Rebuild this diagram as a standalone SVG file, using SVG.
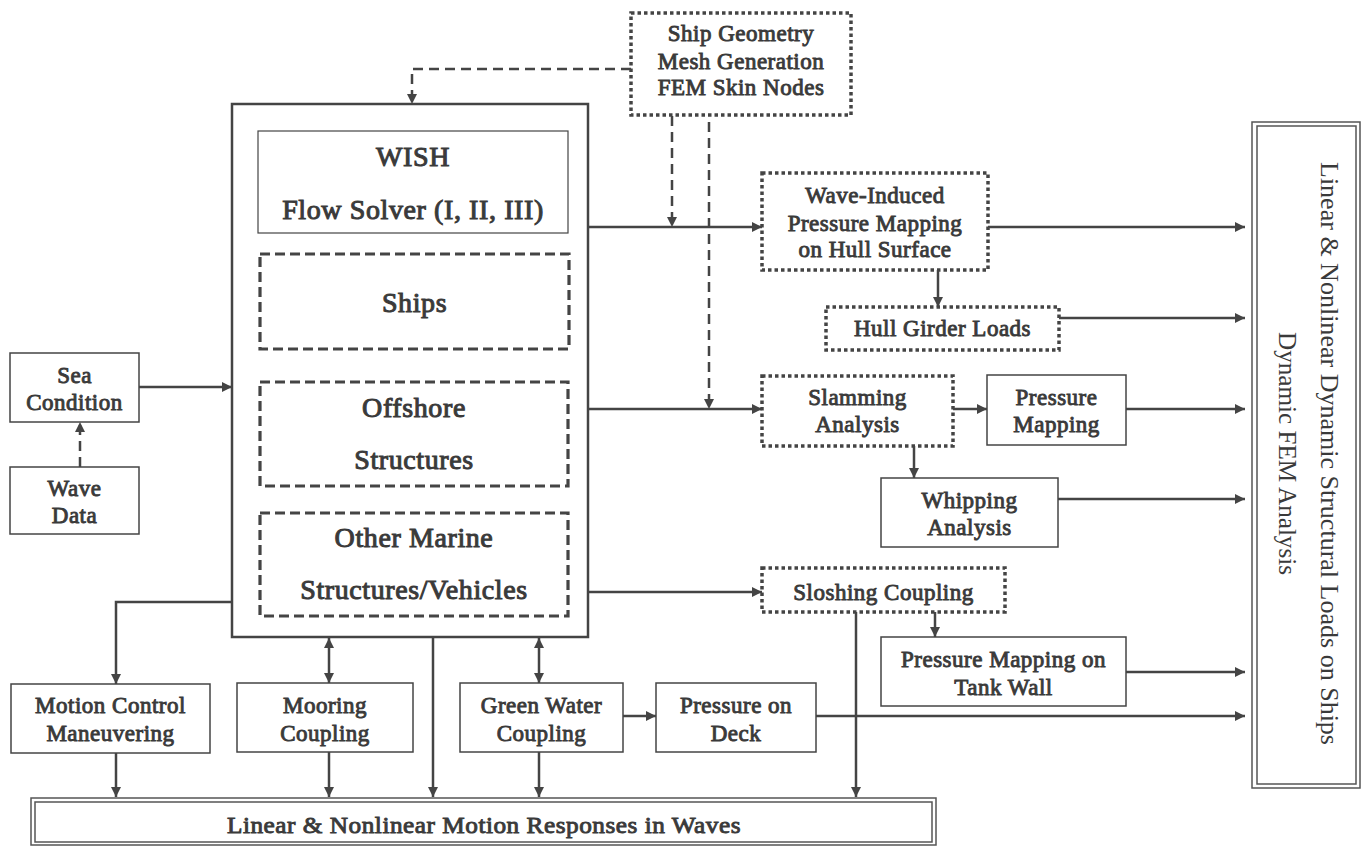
<svg xmlns="http://www.w3.org/2000/svg" width="1366" height="846" viewBox="0 0 1366 846">
<defs>
<marker id="ah" viewBox="0 0 10 10" refX="10" refY="5" markerWidth="10" markerHeight="10" markerUnits="userSpaceOnUse" orient="auto-start-reverse">
<path d="M0,0 L10,5 L0,10 z" fill="#444"/>
</marker>
<style>
.box{fill:#fff;stroke:#444;stroke-width:1.5}
.main{fill:#fff;stroke:#444;stroke-width:2.5}
.dash{fill:#fff;stroke:#444;stroke-width:3.2;stroke-dasharray:10 5}
.dot{fill:#fff;stroke:#444;stroke-width:3.5;stroke-dasharray:3.5 3}
.dbl{fill:none;stroke:#555;stroke-width:1.5}
.t{font-family:"Liberation Serif","Times New Roman",serif;font-weight:normal;font-size:23px;letter-spacing:0.5px;fill:#3a3a3a;stroke:#3a3a3a;stroke-width:0.9;text-anchor:middle}
.big{font-size:28px;stroke-width:1;letter-spacing:0.6px}
.rt{font-family:"Liberation Serif","Times New Roman",serif;font-size:25px;fill:#3a3a3a;text-anchor:middle}
.c{fill:none;stroke:#444;stroke-width:2.5;marker-end:url(#ah)}
.cd{fill:none;stroke:#444;stroke-width:2.5;stroke-dasharray:10 6;marker-end:url(#ah)}
.cb{fill:none;stroke:#444;stroke-width:2.5;marker-end:url(#ah);marker-start:url(#ah)}
</style>
</defs>
<rect width="1366" height="846" fill="#fff"/>

<g id="connectors">
<path class="cd" d="M631,69 H412 V104"/>
<path class="c" d="M139,387 H232"/>
<path class="cd" d="M80,467 V422"/>
<path class="c" d="M588,227 H762"/>
<path class="cd" d="M672,116 V227"/>
<path class="cd" d="M709,122 V409"/>
<path class="c" d="M588,409 H762"/>
<path class="c" d="M588,592 H762"/>
<path class="c" d="M988,227 H1245"/>
<path class="c" d="M938,270 V307"/>
<path class="c" d="M1059,318 H1245"/>
<path class="c" d="M953,409 H987"/>
<path class="c" d="M1126,409 H1245"/>
<path class="c" d="M914,446 V478"/>
<path class="c" d="M1058,499 H1245"/>
<path class="c" d="M935,612 V637"/>
<path class="c" d="M856,612 V797"/>
<path class="c" d="M1126,672 H1245"/>
<path class="c" d="M816,716 H1245"/>
<path class="c" d="M623,716 H656"/>
<path class="c" d="M232,602 H116 V684"/>
<path class="cb" d="M329,638 V683"/>
<path class="c" d="M433,637 V797"/>
<path class="cb" d="M539,638 V683"/>
<path class="c" d="M116,753 V797"/>
<path class="c" d="M329,752 V797"/>
<path class="c" d="M539,752 V797"/>
</g>

<g id="ship-geometry">
<rect class="dot" x="631" y="13" width="220" height="102"/>
<text class="t" x="741" y="41">Ship Geometry</text>
<text class="t" x="741" y="69">Mesh Generation</text>
<text class="t" x="741" y="95">FEM Skin Nodes</text>
</g>

<g id="wish-main">
<rect class="main" x="232" y="104" width="356" height="533"/>
</g>
<g id="wish">
<rect class="box" x="258" y="131" width="310" height="102" style="stroke-width:1.2"/>
<text class="t big" x="413" y="166">WISH</text>
<text class="t big" x="413" y="219">Flow Solver (I, II, III)</text>
</g>
<g id="ships">
<rect class="dash" x="260" y="254" width="309" height="95"/>
<text class="t big" x="414.5" y="312">Ships</text>
</g>
<g id="offshore">
<rect class="dash" x="260" y="382" width="308" height="104"/>
<text class="t big" x="414" y="417">Offshore</text>
<text class="t big" x="414" y="469">Structures</text>
</g>
<g id="other-marine">
<rect class="dash" x="260" y="513" width="308" height="103"/>
<text class="t big" x="414" y="547">Other Marine</text>
<text class="t big" x="414" y="599">Structures/Vehicles</text>
</g>

<g id="sea-condition">
<rect class="box" x="10" y="353" width="129" height="69"/>
<text class="t" x="74.5" y="383">Sea</text>
<text class="t" x="74.5" y="410">Condition</text>
</g>
<g id="wave-data">
<rect class="box" x="10" y="467" width="129" height="67"/>
<text class="t" x="74.5" y="496">Wave</text>
<text class="t" x="74.5" y="523">Data</text>
</g>

<g id="wave-induced">
<rect class="dot" x="762" y="173" width="226" height="97"/>
<text class="t" x="875" y="203">Wave-Induced</text>
<text class="t" x="875" y="231">Pressure Mapping</text>
<text class="t" x="875" y="257">on Hull Surface</text>
</g>
<g id="hull-girder">
<rect class="dot" x="826" y="307" width="233" height="43"/>
<text class="t" x="942.5" y="336">Hull Girder Loads</text>
</g>
<g id="slamming">
<rect class="dot" x="762" y="376" width="191" height="70"/>
<text class="t" x="857.5" y="405">Slamming</text>
<text class="t" x="857.5" y="432">Analysis</text>
</g>
<g id="pressure-mapping">
<rect class="box" x="987" y="375" width="139" height="70"/>
<text class="t" x="1056.5" y="405">Pressure</text>
<text class="t" x="1056.5" y="432">Mapping</text>
</g>
<g id="whipping">
<rect class="box" x="881" y="478" width="177" height="69"/>
<text class="t" x="969.5" y="508">Whipping</text>
<text class="t" x="969.5" y="535">Analysis</text>
</g>
<g id="sloshing">
<rect class="dot" x="762" y="568" width="243" height="44"/>
<text class="t" x="883.5" y="600">Sloshing Coupling</text>
</g>
<g id="tank-wall">
<rect class="box" x="881" y="637" width="245" height="69"/>
<text class="t" x="1003.5" y="667">Pressure Mapping on</text>
<text class="t" x="1003.5" y="695">Tank Wall</text>
</g>
<g id="pressure-deck">
<rect class="box" x="656" y="683" width="160" height="69"/>
<text class="t" x="736" y="713">Pressure on</text>
<text class="t" x="736" y="741">Deck</text>
</g>
<g id="green-water">
<rect class="box" x="460" y="683" width="163" height="69"/>
<text class="t" x="541.5" y="713">Green Water</text>
<text class="t" x="541.5" y="741">Coupling</text>
</g>
<g id="mooring">
<rect class="box" x="237" y="683" width="176" height="69"/>
<text class="t" x="325" y="713">Mooring</text>
<text class="t" x="325" y="741">Coupling</text>
</g>
<g id="motion-control">
<rect class="box" x="11" y="684" width="199" height="69"/>
<text class="t" x="110.5" y="713">Motion Control</text>
<text class="t" x="110.5" y="741">Maneuvering</text>
</g>

<g id="motion-responses">
<rect class="dbl" x="31" y="798" width="905" height="47"/>
<rect class="dbl" x="35" y="802" width="897" height="40"/>
<text class="t" x="484" y="833" style="font-size:24px" textLength="514" lengthAdjust="spacingAndGlyphs">Linear &amp; Nonlinear  Motion Responses in Waves</text>
</g>

<g id="structural-loads">
<rect class="dbl" x="1252" y="122" width="108" height="666"/>
<rect class="dbl" x="1257" y="126" width="99" height="658"/>
<text class="rt" transform="translate(1321,453.5) rotate(90)" textLength="583" lengthAdjust="spacingAndGlyphs">Linear  &amp; Nonlinear  Dynamic  Structural  Loads  on Ships</text>
<text class="rt" transform="translate(1279,453.5) rotate(90)" textLength="243" lengthAdjust="spacingAndGlyphs">Dynamic  FEM Analysis</text>
</g>
</svg>
